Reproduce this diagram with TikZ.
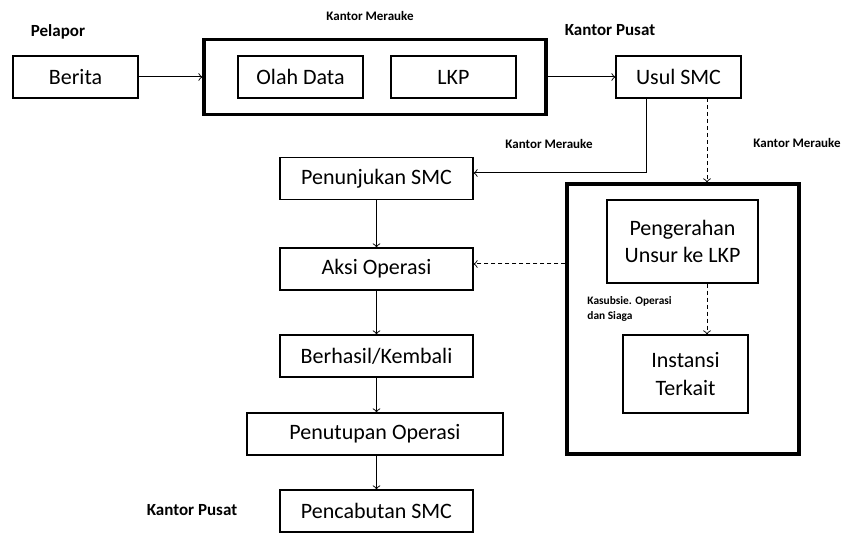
\documentclass[tikz,border=0pt]{standalone}
\usepackage{fontspec}
\setmainfont{Carlito}
\begin{document}
\begin{tikzpicture}[x=0.5pt, y=-0.5pt,
  box/.style={draw, line width=0.6pt, minimum width=62.5pt, minimum height=21pt, inner sep=0pt, align=center, font=\fontsize{11}{13.6}\selectfont},
  group/.style={draw, line width=1.6pt, inner sep=0pt},
  lbl/.style={font=\bfseries\fontsize{8.5}{10}\selectfont},
  small/.style={font=\bfseries\fontsize{6.5}{8}\selectfont},
  tiny/.style={font=\bfseries\fontsize{5.7}{7.5}\selectfont, align=left, inner sep=0pt},
  dash line/.style={dash pattern=on 2pt off 1.5pt},
  link/.style={->, line width=0.5pt}]
\useasboundingbox (0,0) rectangle (842,533);

\node[lbl] (pelapor) at (58,32) {Pelapor};
\node[small] (kmtop) at (370,16) {Kantor Merauke};
\node[lbl] (kpusat) at (610,30) {Kantor Pusat};
\node[small] (kmmid) at (549,144) {Kantor Merauke};
\node[small, anchor=east, inner sep=0pt] (kmright) at (841,143) {Kantor Merauke};
\node[lbl] (kpbawah) at (192,510) {Kantor Pusat};

\node[box] (berita) at (75.5,77) {Berita};
\node[group, minimum width=171pt, minimum height=37.5pt] (merauke) at (375,77) {};
\node[box] (olah) at (300.5,77) {Olah Data};
\node[box] (lkp) at (453.5,77) {LKP};
\node[box] (usul) at (678.5,77) {Usul SMC};

\node[box, minimum width=96.5pt] (tunjuk) at (376.5,178.5) {Penunjukan SMC};
\node[box, minimum width=96.5pt] (aksi) at (376.5,269) {Aksi Operasi};
\node[box, minimum width=96.5pt] (hasil) at (376.5,356) {Berhasil/Kembali};
\node[box, minimum width=128pt] (tutup) at (375,434) {Penutupan Operasi};
\node[box, minimum width=96.5pt] (cabut) at (376.5,511) {Pencabutan SMC};

\node[group, minimum width=116pt, minimum height=135pt] (unsur) at (683,319) {};
\node[box, minimum width=75.5pt, minimum height=41.5pt] (gerak) at (682.5,241.5) {Pengerahan\\Unsur ke LKP};
\node[box, minimum height=39pt] (instansi) at (685.5,374) {Instansi\\Terkait};
\node[tiny, anchor=north west] (kasubsie) at (587,296) {Kasubsie. Operasi\\dan Siaga};

\coordinate (dashx) at (707,98);

\draw [link] (berita) -- (merauke);
\draw [link] (merauke) -- (usul);
\draw [link] ([xshift=-16.25pt]usul.south) |- ([yshift=2.75pt]tunjuk.east);
\draw [link, dash line] (dashx) -- (dashx |- unsur.north);
\draw [link, dash line] (dashx |- gerak.south) -- (dashx |- instansi.north);
\draw [link, dash line] ([yshift=2.5pt]aksi.east -| unsur.west) -- ([yshift=2.5pt]aksi.east);

\draw [link] (tunjuk) -- (aksi);
\draw [link] (aksi) -- (hasil);
\draw [link] (hasil) -- (hasil.south |- tutup.north);
\draw [link] (hasil.south |- tutup.south) -- (cabut);

\end{tikzpicture}
\end{document}
